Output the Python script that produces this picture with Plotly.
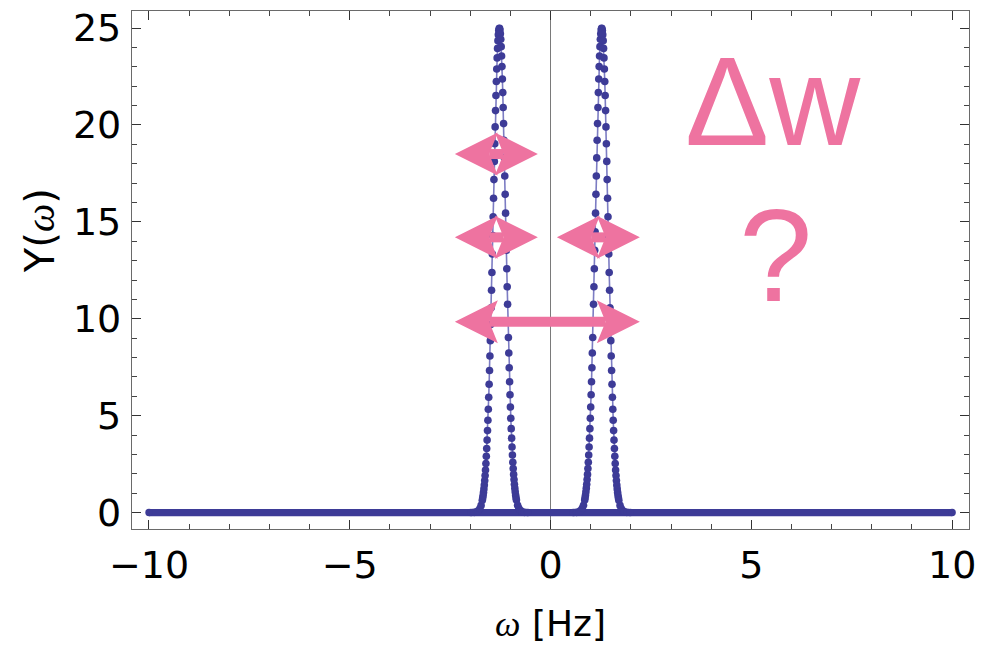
import plotly.graph_objects as go

# ---------------- data ----------------
baseline_omega = [-10.0, 10.0]
baseline_y = [0.0, 0.0]

left_peak_omega = [-1.98, -1.90, -1.84, -1.80, -1.76, -1.73, -1.70, -1.69, -1.68,
                   -1.67, -1.66, -1.65, -1.64, -1.63, -1.62, -1.61, -1.60, -1.59, -1.58,
                   -1.57, -1.56, -1.55, -1.54, -1.53, -1.52, -1.51, -1.50, -1.49, -1.48,
                   -1.47, -1.46, -1.45, -1.44, -1.43, -1.42, -1.41, -1.40, -1.39, -1.38,
                   -1.37, -1.36, -1.35, -1.34, -1.33, -1.32, -1.31, -1.30, -1.29, -1.28,
                   -1.27, -1.26, -1.25, -1.24, -1.23, -1.22, -1.21, -1.20, -1.19, -1.18,
                   -1.17, -1.16, -1.15, -1.14, -1.13, -1.12, -1.11, -1.10, -1.09, -1.08,
                   -1.07, -1.06, -1.05, -1.04, -1.03, -1.02, -1.01, -1.00, -0.99, -0.98,
                   -0.97, -0.96, -0.95, -0.94, -0.93, -0.92, -0.91, -0.90, -0.89, -0.88,
                   -0.87, -0.86, -0.85, -0.82, -0.79, -0.75, -0.71, -0.65, -0.57]
left_peak_y = [0.00, 0.01, 0.04, 0.09, 0.21, 0.37, 0.63, 0.75, 0.88,
               1.04, 1.22, 1.42, 1.65, 1.91, 2.20, 2.53, 2.90, 3.30, 3.74,
               4.23, 4.76, 5.33, 5.95, 6.62, 7.33, 8.08, 8.87, 9.70, 10.57,
               11.47, 12.39, 13.34, 14.29, 15.26, 16.22, 17.18, 18.12, 19.03, 19.90,
               20.74, 21.52, 22.24, 22.89, 23.46, 23.95, 24.35, 24.66, 24.87, 24.98,
               24.99, 24.90, 24.71, 24.42, 24.04, 23.56, 23.01, 22.37, 21.67, 20.90,
               20.07, 19.21, 18.30, 17.37, 16.42, 15.45, 14.49, 13.53, 12.58, 11.65,
               10.75, 9.87, 9.03, 8.23, 7.47, 6.75, 6.08, 5.45, 4.87, 4.33,
               3.84, 3.38, 2.97, 2.60, 2.27, 1.97, 1.70, 1.46, 1.26, 1.07,
               0.91, 0.77, 0.65, 0.38, 0.22, 0.10, 0.04, 0.01, 0.00]

right_peak_omega = [0.57, 0.65, 0.71, 0.75, 0.79, 0.82, 0.85, 0.86, 0.87,
                    0.88, 0.89, 0.90, 0.91, 0.92, 0.93, 0.94, 0.95, 0.96, 0.97,
                    0.98, 0.99, 1.00, 1.01, 1.02, 1.03, 1.04, 1.05, 1.06, 1.07,
                    1.08, 1.09, 1.10, 1.11, 1.12, 1.13, 1.14, 1.15, 1.16, 1.17,
                    1.18, 1.19, 1.20, 1.21, 1.22, 1.23, 1.24, 1.25, 1.26, 1.27,
                    1.28, 1.29, 1.30, 1.31, 1.32, 1.33, 1.34, 1.35, 1.36, 1.37,
                    1.38, 1.39, 1.40, 1.41, 1.42, 1.43, 1.44, 1.45, 1.46, 1.47,
                    1.48, 1.49, 1.50, 1.51, 1.52, 1.53, 1.54, 1.55, 1.56, 1.57,
                    1.58, 1.59, 1.60, 1.61, 1.62, 1.63, 1.64, 1.65, 1.66, 1.67,
                    1.68, 1.69, 1.70, 1.73, 1.76, 1.80, 1.84, 1.90, 1.98]
right_peak_y = [0.00, 0.01, 0.04, 0.10, 0.22, 0.38, 0.65, 0.77, 0.91,
                1.07, 1.26, 1.46, 1.70, 1.97, 2.27, 2.60, 2.97, 3.38, 3.84,
                4.33, 4.87, 5.45, 6.08, 6.75, 7.47, 8.23, 9.03, 9.87, 10.75,
                11.65, 12.58, 13.53, 14.49, 15.45, 16.42, 17.37, 18.30, 19.21, 20.07,
                20.90, 21.67, 22.37, 23.01, 23.56, 24.04, 24.42, 24.71, 24.90, 24.99,
                24.98, 24.87, 24.66, 24.35, 23.95, 23.46, 22.89, 22.24, 21.52, 20.74,
                19.90, 19.03, 18.12, 17.18, 16.22, 15.26, 14.29, 13.34, 12.39, 11.47,
                10.57, 9.70, 8.87, 8.08, 7.33, 6.62, 5.95, 5.33, 4.76, 4.23,
                3.74, 3.30, 2.90, 2.53, 2.20, 1.91, 1.65, 1.42, 1.22, 1.04,
                0.88, 0.75, 0.63, 0.37, 0.21, 0.09, 0.04, 0.01, 0.00]

x_tick_values = [-10, -5, 0, 5, 10]
y_tick_values = [0, 5, 10, 15, 20, 25]

# annotation arrows: (centre omega, centre Y, half length in px)
arrow_specs = [(-1.35, 18.5, 41.5), (-1.35, 14.2, 41.5), (1.19, 14.2, 41.5), (-0.08, 9.85, 92.5)]

# ---------------- style ----------------
DOT = "#3D3B97"
LINE = "rgba(80,80,175,0.75)"
PINK = "#EE73A0"
SANS = "DejaVu Sans, Liberation Sans, Arial, sans-serif"
PINKFONT = "Liberation Sans, Arial, Helvetica, sans-serif"
OMEGA = "<span style='font-family:Liberation Serif;font-style:italic'>ω</span>"

fig = go.Figure()
fig.add_trace(go.Scatter(x=baseline_omega, y=baseline_y, mode="lines+markers",
                         line=dict(color=DOT, width=7.2),
                         marker=dict(color=DOT, size=7.4), hoverinfo="skip", showlegend=False))
for xs, ys in [(left_peak_omega, left_peak_y), (right_peak_omega, right_peak_y)]:
    fig.add_trace(go.Scatter(x=xs, y=ys, mode="lines", line=dict(color=LINE, width=1.6),
                             showlegend=False))
    fig.add_trace(go.Scatter(x=xs, y=ys, mode="markers",
                             marker=dict(color=DOT, size=7.6, line=dict(width=0)),
                             showlegend=False))

# double headed arrows (pixel sized, anchored in data coords)
H, W, N, S = 43.0, 21.5, 8.7, 5.0
for cx, cy, L in arrow_specs:
    paths = [
        f"M {-L + H - N},{-S} L {L - H + N},{-S} L {L - H + N},{S} L {-L + H - N},{S} Z",
        f"M {-L},0 L {-L + H},{W} L {-L + H - N},0 L {-L + H},{-W} Z",
        f"M {L},0 L {L - H},{W} L {L - H + N},0 L {L - H},{-W} Z",
    ]
    for p in paths:
        fig.add_shape(type="path", path=p, xref="x", yref="y",
                      xsizemode="pixel", ysizemode="pixel", xanchor=cx, yanchor=cy,
                      fillcolor=PINK, line=dict(width=0), layer="above")

fig.add_annotation(x=5.53, y=21.21, xref="x", yref="y", text="Δw", showarrow=False,
                   font=dict(family=PINKFONT, size=126, color=PINK), xanchor="center", yanchor="middle")
fig.add_annotation(x=5.6, y=13.29, xref="x", yref="y", text="?", showarrow=False,
                   font=dict(family=PINKFONT, size=132, color=PINK), xanchor="center", yanchor="middle")

# y axis label (placed like the reference, left of the frame)
fig.add_annotation(x=-0.1099, y=0.575, xref="paper", yref="paper", text="Y(" + OMEGA + ")",
                   textangle=-90, showarrow=False, xanchor="center", yanchor="middle",
                   font=dict(family=SANS, size=40, color="#000000"))

axis_common = dict(
    showgrid=False, ticks="inside", ticklen=9, tickwidth=1.2, tickcolor="#333333",
    showline=True, linecolor="#6a6a6a", linewidth=1.3, mirror="ticks", automargin=False,
    tickfont=dict(family=SANS, size=38, color="#000000"),
    minor=dict(ticks="inside", ticklen=5, tickwidth=1.0, tickcolor="#444444", dtick=1, showgrid=False),
)

fig.update_layout(
    width=995, height=650,
    margin=dict(l=132, r=26, t=11, b=121),
    plot_bgcolor="white", paper_bgcolor="white",
    xaxis=dict(range=[-10.423, 10.42], tickvals=x_tick_values, zeroline=True,
               zerolinecolor="#7a7a7a", zerolinewidth=1.3, ticklabelstandoff=2,
               title=dict(text=OMEGA + " [Hz]",
                          font=dict(family=SANS, size=36, color="#000000"), standoff=25),
               **axis_common),
    yaxis=dict(range=[-0.848, 25.88], tickvals=y_tick_values, zeroline=False, ticklabelstandoff=2,
               **axis_common),
)

fig.write_html("out.html", config={"displayModeBar": False},
               post_script="document.body.style.margin='0';")
